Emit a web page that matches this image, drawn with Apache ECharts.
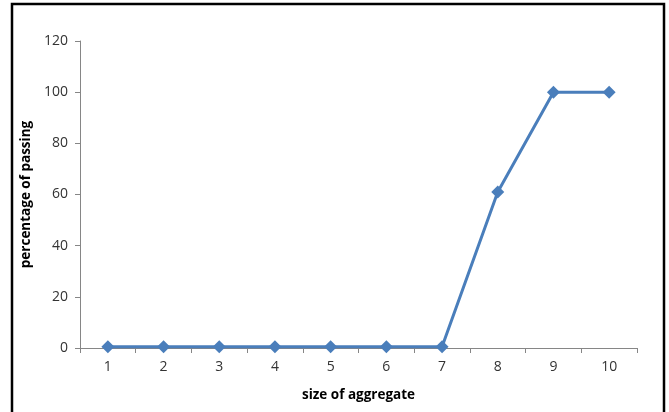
<!DOCTYPE html>
<html><head><meta charset="utf-8">
<script src="https://cdn.jsdelivr.net/npm/echarts@6/dist/echarts.min.js"></script>
<style>html,body{margin:0;padding:0;background:#fff}#c{width:669px;height:412px}</style>
</head><body><div id="c"></div>
<script>
const categories = ['1','2','3','4','5','6','7','8','9','10'];
const passing = [0.5, 0.5, 0.5, 0.5, 0.5, 0.5, 0.5, 61, 100, 100];
const yTicks = [0, 20, 40, 60, 80, 100, 120];

const chart = echarts.init(document.getElementById('c'));
const font = '"Open Sans", "Liberation Sans", sans-serif';
chart.setOption({
  animation: false,
  graphic: [{
    type: 'rect', shape: {x: 12, y: 4, width: 652, height: 430},
    style: {fill: 'none', stroke: '#000', lineWidth: 2.5}, silent: true
  }],
  grid: {left: 80, right: 32, top: 41, bottom: 64},
  xAxis: {
    type: 'category', data: categories, boundaryGap: true,
    name: 'size of aggregate', nameLocation: 'middle', nameGap: 40,
    nameTextStyle: {fontFamily: font, fontWeight: 'bold', fontSize: 13.5, color: '#000'},
    axisLine: {lineStyle: {color: '#868686', width: 1}},
    axisTick: {show: true, length: 5, lineStyle: {color: '#868686'}},
    axisLabel: {fontFamily: font, fontSize: 14, color: '#333', margin: 12},
    splitLine: {show: false}
  },
  yAxis: {
    type: 'value', min: yTicks[0], max: yTicks[yTicks.length - 1], interval: 20,
    name: 'percentage of passing', nameLocation: 'middle', nameGap: 44,
    nameTextStyle: {fontFamily: font, fontWeight: 'bold', fontSize: 13.5, color: '#000'},
    axisLine: {show: true, lineStyle: {color: '#868686', width: 1}},
    axisTick: {show: true, length: 5, lineStyle: {color: '#868686'}},
    axisLabel: {fontFamily: font, fontSize: 14, color: '#333', margin: 12},
    splitLine: {show: false}
  },
  series: [{
    type: 'line', data: passing,
    symbol: 'diamond', symbolSize: 13,
    lineStyle: {color: '#4A7EBB', width: 3},
    itemStyle: {color: '#4A7EBB'}
  }]
});
</script></body></html>
